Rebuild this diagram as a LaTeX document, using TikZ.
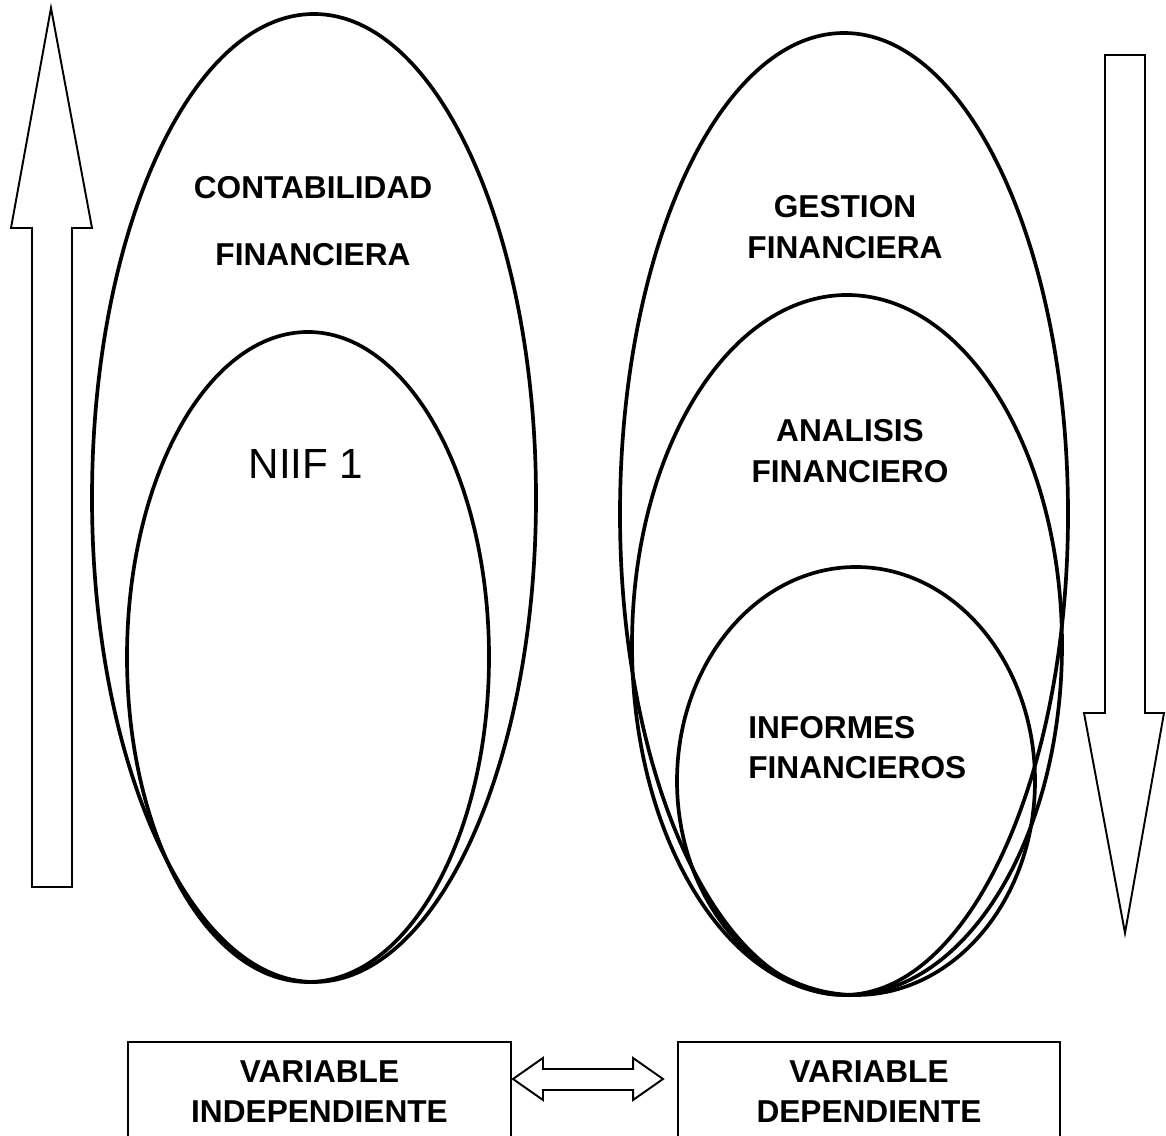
\documentclass[tikz,border=0pt]{standalone}
\usepackage{fontspec}
\setmainfont{Liberation Sans}
\usetikzlibrary{shapes.geometric,positioning,calc}

\begin{document}
\begin{tikzpicture}[
    oval/.style={ellipse, draw, line width=2.1pt, inner sep=0pt},
    lbl/.style={font=\fontsize{18}{23}\selectfont\bfseries, align=center, inner sep=0pt},
    varbox/.style={rectangle, draw, line width=1.1pt, minimum height=1.98cm,
                   align=center, font=\fontsize{18}{23}\selectfont\bfseries},
    blockarr/.style={draw, line width=1.1pt, fill=white, line join=miter}
  ]

  % ---- Page ----
  \useasboundingbox (0,0) rectangle (23.32,22.72);

  % ============ LEFT SIDE ============

  % Contabilidad financiera (outer)
  \node[oval, minimum width=8.88cm, minimum height=19.36cm] (CF) at (6.28,12.76) {};
  % NIIF 1 (inner)
  \node[oval, minimum width=7.24cm, minimum height=13.0cm] (NF) at (6.16,9.58) {};

  \node[lbl] (CFt) at (6.26,18.29) {CONTABILIDAD\\[15pt]FINANCIERA};
  \node[font=\fontsize{24}{28}\selectfont, inner sep=0pt] (NFt) at (6.12,13.44) {NIIF 1};

  % ============ RIGHT SIDE ============

  % Gestion financiera (outer)
  \node[oval, minimum width=8.96cm, minimum height=19.24cm] (GF) at (16.88,12.44) {};
  % Analisis financiero (middle)
  \node[oval, minimum width=8.6cm, minimum height=14.0cm] (AF) at (16.94,9.82) {};
  % Informes financieros (inner)
  \node[oval, minimum width=7.16cm, minimum height=8.56cm] (IF) at (17.12,7.10) {};

  \node[lbl] (GFt) at (16.90,18.18) {GESTION\\FINANCIERA};
  \node[lbl] (AFt) at (17.00,13.70) {ANALISIS\\FINANCIERO};
  \node[lbl, align=left, anchor=west] (IFt) at (14.96,7.77) {INFORMES\\FINANCIEROS};

  % ============ SIDE ARROWS ============

  % up arrow (left)
  \draw[blockarr] (0.64,4.98) -- (0.64,18.16) -- (0.22,18.16) -- (1.02,22.56)
    -- (1.84,18.16) -- (1.44,18.16) -- (1.44,4.98) -- cycle;

  % down arrow (right)
  \draw[blockarr] (22.10,21.62) -- (22.10,8.46) -- (21.68,8.46) -- (22.50,4.06)
    -- (23.28,8.46) -- (22.90,8.46) -- (22.90,21.62) -- cycle;

  % ============ VARIABLES ============
  \node[varbox, minimum width=7.66cm] (VI) at (6.39,0.89) {VARIABLE\\INDEPENDIENTE};
  \node[varbox, minimum width=7.64cm] (VD) at (17.38,0.89) {VARIABLE\\DEPENDIENTE};

  % double arrow between the boxes
  \coordinate (dl) at ($(VI.east)+(0.02,0.25)$);
  \coordinate (dr) at ($(VD.west)+(-0.28,0.25)$);
  \draw[blockarr] (dl) -- ($(dl)+(0.6,0.42)$) -- ($(dl)+(0.6,0.2)$)
    -- ($(dr)+(-0.6,0.2)$) -- ($(dr)+(-0.6,0.42)$) -- (dr)
    -- ($(dr)+(-0.6,-0.42)$) -- ($(dr)+(-0.6,-0.22)$)
    -- ($(dl)+(0.6,-0.22)$) -- ($(dl)+(0.6,-0.42)$) -- cycle;

\end{tikzpicture}
\end{document}
